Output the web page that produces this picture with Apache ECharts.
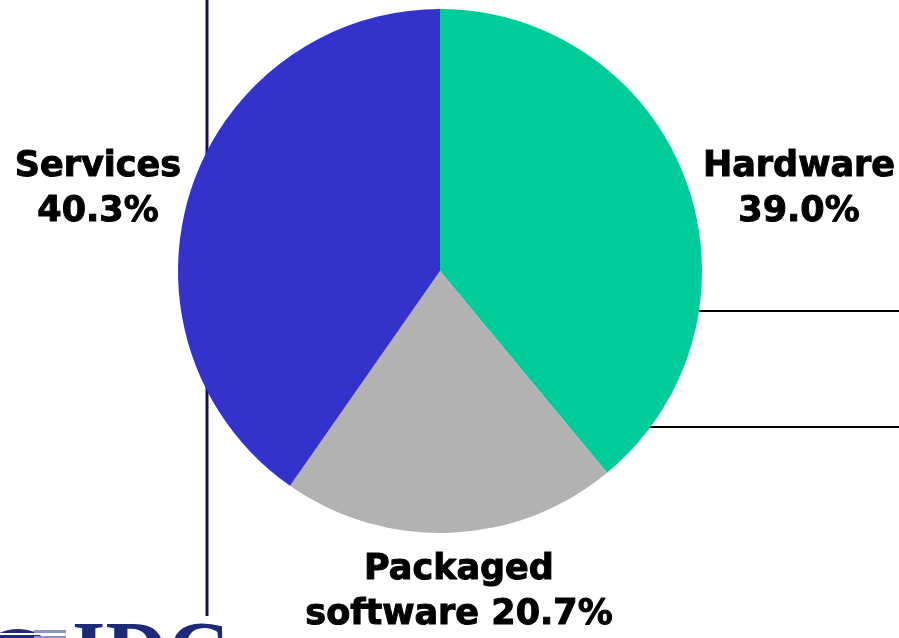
<!DOCTYPE html>
<html>
<head>
<meta charset="utf-8">
<script src="https://cdn.jsdelivr.net/npm/echarts@6/dist/echarts.min.js"></script>
<style>
html,body{margin:0;padding:0;background:#ffffff;}
#chart{width:899px;height:638px;}
</style>
</head>
<body>
<div id="chart"></div>
<script>
const categories = ['Hardware', 'Packaged software', 'Services'];
const shares = [39.0, 20.7, 40.3];
const sliceColors = ['#00CC99', '#B2B2B2', '#3333CC'];

const labelPos = [[799, 189], [459, 592], [98, 189]];

const chart = echarts.init(document.getElementById('chart'), null, {renderer: 'canvas'});

chart.setOption({
  animation: false,
  backgroundColor: '#ffffff',
  graphic: {
    elements: [
      {type: 'line', z: 0, shape: {x1: 207, y1: 0, x2: 207, y2: 616}, style: {stroke: '#1a1050', lineWidth: 3}},
      {type: 'line', z: 0, shape: {x1: 640, y1: 311, x2: 899, y2: 311}, style: {stroke: '#000000', lineWidth: 2}},
      {type: 'line', z: 0, shape: {x1: 600, y1: 427, x2: 899, y2: 427}, style: {stroke: '#000000', lineWidth: 2}},
      {type: 'ellipse', z: 0, shape: {cx: 18, cy: 645, rx: 28, ry: 16}, style: {fill: '#1c2a78'}},
      {type: 'rect', z: 1, shape: {x: 0, y: 633, width: 70, height: 2}, style: {fill: '#ffffff'}},
      {type: 'rect', z: 1, shape: {x: 34, y: 630, width: 32, height: 3}, style: {fill: '#8a95c0'}},
      {type: 'rect', z: 1, shape: {x: 34, y: 636, width: 32, height: 2}, style: {fill: '#8a95c0'}},
      {type: 'text', z: 0, x: 72, y: 659, style: {text: 'IDC', font: 'bold 86px "Liberation Serif"', fill: '#1c2a78', verticalAlign: 'middle', align: 'left'}}
    ]
  },
  series: [{
    type: 'pie',
    center: [440, 271],
    radius: 262,
    startAngle: 90,
    clockwise: true,
    avoidLabelOverlap: false,
    silent: true,
    itemStyle: {borderWidth: 0},
    emphasis: {disabled: true},
    label: {
      show: true,
      position: 'outside',
      fontFamily: 'DejaVu Sans',
      fontWeight: 'bold',
      fontSize: 35,
      lineHeight: 45,
      color: '#000000',
      textBorderColor: '#000000',
      textBorderWidth: 1,
      align: 'center',
      formatter: function (p) {
        const v = p.value.toFixed(1) + '%';
        const sp = p.name.indexOf(' ');
        if (sp > 0) {
          return p.name.slice(0, sp) + '\n' + p.name.slice(sp + 1) + ' ' + v;
        }
        return p.name + '\n' + v;
      }
    },
    labelLine: {show: false},
    labelLayout: function (params) {
      const pos = labelPos[params.dataIndex];
      return {x: pos[0], y: pos[1], align: 'center', verticalAlign: 'middle'};
    },
    data: categories.map((c, i) => ({name: c, value: shares[i], itemStyle: {color: sliceColors[i]}}))
  }]
});
</script>
</body>
</html>
